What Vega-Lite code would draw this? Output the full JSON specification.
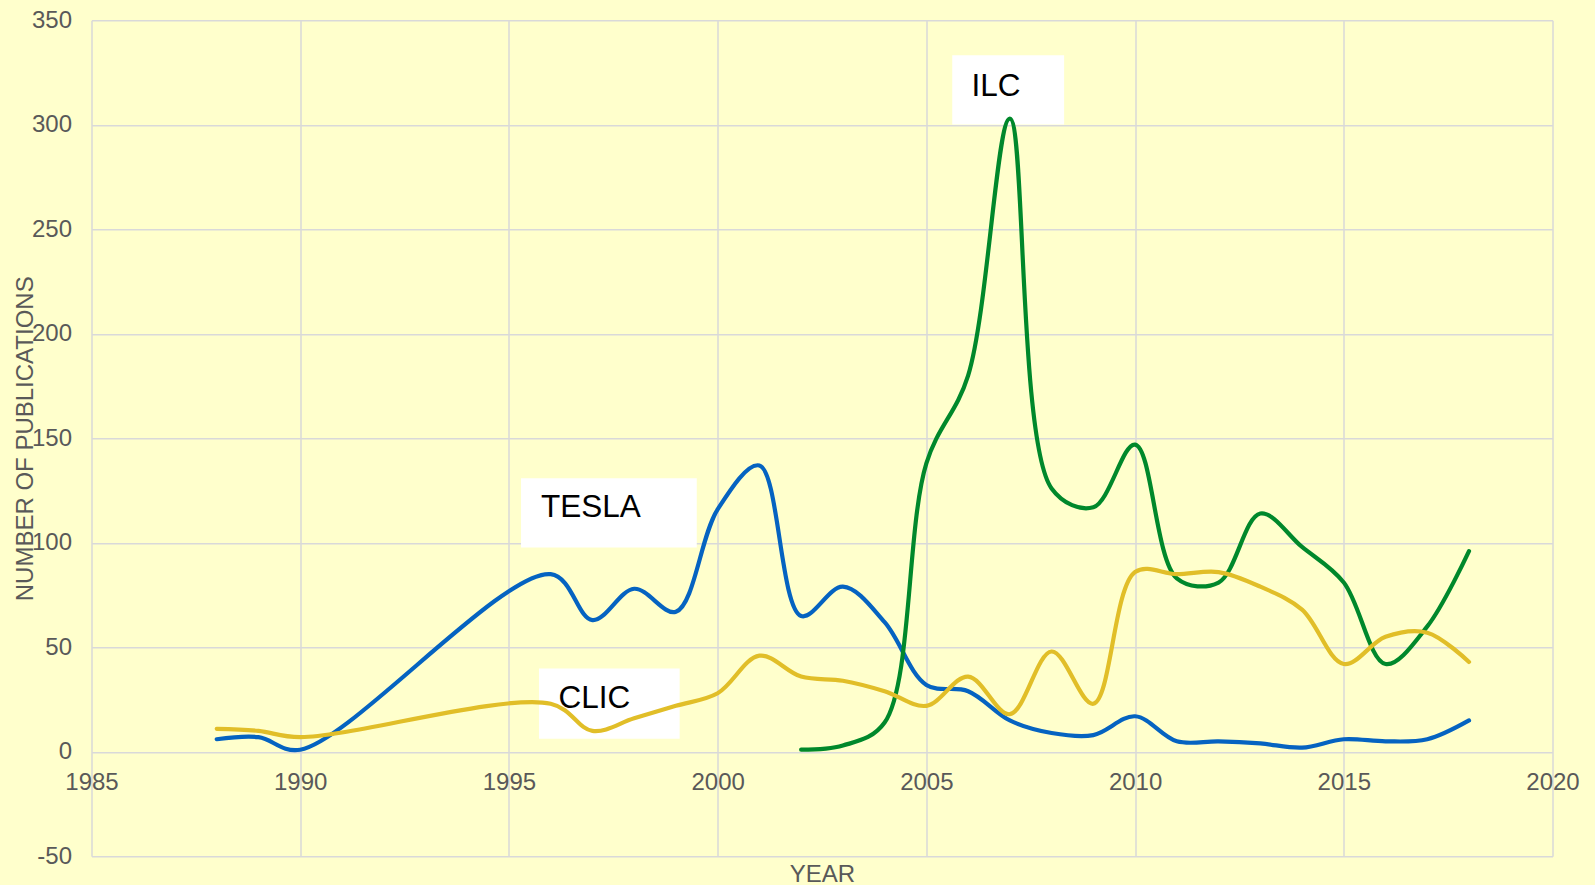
{
  "$schema": "https://vega.github.io/schema/vega-lite/v6.json",
  "autosize": {"type": "none"},
  "padding": {"left": 91.5, "top": 20.3, "right": 42, "bottom": 28.7},
  "width": 1461,
  "height": 836,
  "background": "#FFFFCC",
  "config": {
    "view": {"stroke": null},
    "font": "Liberation Sans",
    "axis": {
      "labelFont": "Liberation Sans",
      "titleFont": "Liberation Sans",
      "labelColor": "#595959",
      "titleColor": "#595959",
      "labelFontSize": 24,
      "titleFontSize": 24,
      "titleFontWeight": "normal",
      "gridColor": "#D9D9D9",
      "gridWidth": 1.5,
      "domain": false,
      "ticks": false,
      "labelFlush": false
    }
  },
  "datasets": {
    "pubs": [
      {"series": "TESLA", "year": 1988, "value": 6},
      {"series": "TESLA", "year": 1989, "value": 7},
      {"series": "TESLA", "year": 1990, "value": 1},
      {"series": "TESLA", "year": 1996, "value": 85},
      {"series": "TESLA", "year": 1997, "value": 63},
      {"series": "TESLA", "year": 1998, "value": 78},
      {"series": "TESLA", "year": 1999, "value": 67},
      {"series": "TESLA", "year": 2000, "value": 116},
      {"series": "TESLA", "year": 2001, "value": 137},
      {"series": "TESLA", "year": 2002, "value": 65},
      {"series": "TESLA", "year": 2003, "value": 79},
      {"series": "TESLA", "year": 2004, "value": 62},
      {"series": "TESLA", "year": 2005, "value": 32},
      {"series": "TESLA", "year": 2006, "value": 29},
      {"series": "TESLA", "year": 2007, "value": 15},
      {"series": "TESLA", "year": 2008, "value": 9},
      {"series": "TESLA", "year": 2009, "value": 8},
      {"series": "TESLA", "year": 2010, "value": 17},
      {"series": "TESLA", "year": 2011, "value": 5},
      {"series": "TESLA", "year": 2012, "value": 5},
      {"series": "TESLA", "year": 2013, "value": 4},
      {"series": "TESLA", "year": 2014, "value": 2},
      {"series": "TESLA", "year": 2015, "value": 6},
      {"series": "TESLA", "year": 2016, "value": 5},
      {"series": "TESLA", "year": 2017, "value": 6},
      {"series": "TESLA", "year": 2018, "value": 15},
      {"series": "ILC", "year": 2002, "value": 1},
      {"series": "ILC", "year": 2003, "value": 3},
      {"series": "ILC", "year": 2004, "value": 14},
      {"series": "ILC", "year": 2005, "value": 138},
      {"series": "ILC", "year": 2006, "value": 180},
      {"series": "ILC", "year": 2007, "value": 303},
      {"series": "ILC", "year": 2008, "value": 126},
      {"series": "ILC", "year": 2009, "value": 117},
      {"series": "ILC", "year": 2010, "value": 147},
      {"series": "ILC", "year": 2011, "value": 83},
      {"series": "ILC", "year": 2012, "value": 81},
      {"series": "ILC", "year": 2013, "value": 114},
      {"series": "ILC", "year": 2014, "value": 98},
      {"series": "ILC", "year": 2015, "value": 81},
      {"series": "ILC", "year": 2016, "value": 42},
      {"series": "ILC", "year": 2017, "value": 60},
      {"series": "ILC", "year": 2018, "value": 96},
      {"series": "CLIC", "year": 1988, "value": 11},
      {"series": "CLIC", "year": 1989, "value": 10},
      {"series": "CLIC", "year": 1990, "value": 7},
      {"series": "CLIC", "year": 1996, "value": 23},
      {"series": "CLIC", "year": 1997, "value": 10},
      {"series": "CLIC", "year": 1998, "value": 16},
      {"series": "CLIC", "year": 1999, "value": 22},
      {"series": "CLIC", "year": 2000, "value": 28},
      {"series": "CLIC", "year": 2001, "value": 46},
      {"series": "CLIC", "year": 2002, "value": 36},
      {"series": "CLIC", "year": 2003, "value": 34},
      {"series": "CLIC", "year": 2004, "value": 29},
      {"series": "CLIC", "year": 2005, "value": 22},
      {"series": "CLIC", "year": 2006, "value": 36},
      {"series": "CLIC", "year": 2007, "value": 18},
      {"series": "CLIC", "year": 2008, "value": 48},
      {"series": "CLIC", "year": 2009, "value": 23},
      {"series": "CLIC", "year": 2010, "value": 86},
      {"series": "CLIC", "year": 2011, "value": 85},
      {"series": "CLIC", "year": 2012, "value": 86},
      {"series": "CLIC", "year": 2013, "value": 79},
      {"series": "CLIC", "year": 2014, "value": 68},
      {"series": "CLIC", "year": 2015, "value": 42},
      {"series": "CLIC", "year": 2016, "value": 55},
      {"series": "CLIC", "year": 2017, "value": 57},
      {"series": "CLIC", "year": 2018, "value": 43}
    ],
    "labels": [
      {"label": "ILC", "x1": 2005.62, "x2": 2008.3, "y1": 333.3, "y2": 300.2, "tx": 2006.08, "ty": 318},
      {"label": "TESLA", "x1": 1995.29, "x2": 1999.5, "y1": 130.9, "y2": 97.8, "tx": 1995.77, "ty": 116.5},
      {"label": "CLIC", "x1": 1995.72, "x2": 1999.09, "y1": 39.9, "y2": 6.3, "tx": 1996.19, "ty": 25.5}
    ]
  },
  "layer": [
    {
      "data": {"name": "labels"},
      "mark": {"type": "rect", "color": "#FFFFFF"},
      "encoding": {
        "x": {
          "field": "x1", "type": "quantitative",
          "scale": {"domain": [1985, 2020], "nice": false, "zero": false},
          "axis": {"orient": "bottom", "grid": true, "labels": false, "values": [1985, 1990, 1995, 2000, 2005, 2010, 2015, 2020], "title": "YEAR", "titlePadding": 6}
        },
        "x2": {"field": "x2"},
        "y": {
          "field": "y1", "type": "quantitative",
          "scale": {"domain": [-50, 350], "nice": false, "zero": false},
          "axis": {
            "grid": true, "values": [-50, 0, 50, 100, 150, 200, 250, 300, 350],
            "labelPadding": 20,
            "labelExpr": "'' + datum.value",
            "title": "NUMBER OF PUBLICATIONS",
            "titleX": -66, "titleY": 418, "titleAngle": -90, "titleBaseline": "middle", "titleAlign": "center"
          }
        },
        "y2": {"field": "y2"}
      }
    },
    {
      "data": {"name": "pubs"},
      "mark": {"type": "line", "interpolate": "catmull-rom", "strokeWidth": 4.2, "strokeCap": "round"},
      "encoding": {
        "x": {
          "field": "year", "type": "quantitative",
          "axis": {"orient": "bottom", "grid": false, "offset": -104.7, "labelPadding": 19, "format": "d", "values": [1985, 1990, 1995, 2000, 2005, 2010, 2015, 2020], "title": null}
        },
        "y": {"field": "value", "type": "quantitative"},
        "color": {
          "field": "series", "type": "nominal",
          "scale": {"domain": ["TESLA", "ILC", "CLIC"], "range": ["#0563C1", "#00882B", "#E1BE28"]},
          "legend": null
        },
        "detail": {"field": "series"}
      }
    },
    {
      "data": {"name": "labels"},
      "mark": {"type": "text", "align": "left", "baseline": "middle", "fontSize": 31.5, "font": "Liberation Sans", "color": "#000000"},
      "encoding": {
        "x": {"field": "tx", "type": "quantitative", "axis": null},
        "y": {"field": "ty", "type": "quantitative"},
        "text": {"field": "label"}
      }
    }
  ],
  "resolve": {"axis": {"x": "independent"}}
}
